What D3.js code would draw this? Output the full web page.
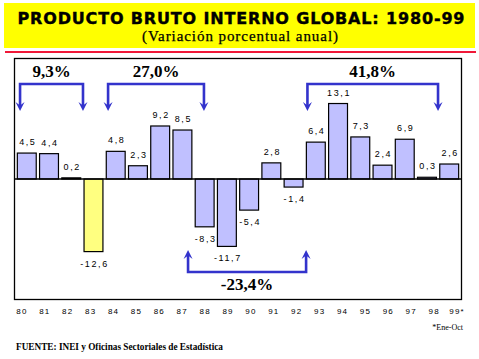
<!DOCTYPE html>
<html>
<head>
<meta charset="utf-8">
<script src="https://cdn.jsdelivr.net/npm/d3@7"></script>
<style>
  body { margin: 0; background: #fff; }
  svg { display: block; }
</style>
</head>
<body>
<svg id="chart" width="479" height="359"></svg>
<script>
// data
const years = ["80", "81", "82", "83", "84", "85", "86", "87", "88", "89",
  "90", "91", "92", "93", "94", "95", "96", "97", "98", "99"];
const tickLabels = ["80", "81", "82", "83", "84", "85", "86", "87", "88", "89",
  "90", "91", "92", "93", "94", "95", "96", "97", "98", "99*"];
const values = [4.5, 4.4, 0.2, -12.6, 4.8, 2.3, 9.2, 8.5, -8.3, -11.7,
  -5.4, 2.8, -1.4, 6.4, 13.1, 7.3, 2.4, 6.9, 0.3, 2.6];
const highlightYears = ["83"];
// cumulative periods, ends given in year units as drawn
const periodStart = [79.77, 83.7, 92.6, 87.27];
const periodEnd = [82.58, 87.98, 98.43, 92.54];
const periodLabels = ["9,3%", "27,0%", "41,8%", "-23,4%"];

const svg = d3.select("#chart");
const plotLeft = 14, plotRight = 462, plotTop = 58, plotBottom = 300;
const blue = "#3333cc";

// title block
svg.append("rect")
  .attr("x", 4).attr("y", 3).attr("width", 471).attr("height", 45)
  .attr("fill", "#ffff00");
svg.append("text")
  .attr("x", 241).attr("y", 23.5)
  .attr("text-anchor", "middle")
  .attr("textLength", 447).attr("lengthAdjust", "spacing")
  .attr("stroke", "#000").attr("stroke-width", 0.4)
  .style("font", "900 16px 'DejaVu Sans', Arial, sans-serif")
  .text("PRODUCTO BRUTO INTERNO GLOBAL: 1980-99");
svg.append("text")
  .attr("x", 240).attr("y", 41)
  .attr("text-anchor", "middle")
  .attr("textLength", 196).attr("lengthAdjust", "spacing")
  .attr("stroke", "#000").attr("stroke-width", 0.25)
  .style("font", "15px 'Liberation Serif', 'Times New Roman', serif")
  .text("(Variación porcentual anual)");
svg.append("line")
  .attr("x1", 5).attr("x2", 476).attr("y1", 52).attr("y2", 52)
  .attr("stroke", "#f01838").attr("stroke-width", 2);

// scales
const x = d3.scaleBand().domain(years).range([plotLeft, plotRight]).padding(0.15);
const xYear = d3.scaleLinear().domain([79.5, 99.5]).range([plotLeft, plotRight]);
const y = d3.scaleLinear().domain([-21, 21]).range([plotBottom, plotTop]);
const xTick = d3.scaleBand().domain(tickLabels).range([10.5, 468.5]);

// plot frame
svg.append("rect")
  .attr("x", plotLeft + 0.5).attr("y", plotTop + 0.5)
  .attr("width", plotRight - plotLeft - 1).attr("height", plotBottom - plotTop - 1)
  .attr("fill", "none").attr("stroke", "#000").attr("stroke-width", 1.3);

// bars
svg.selectAll(".bar")
  .data(values)
  .join("rect")
  .attr("class", "bar")
  .attr("x", (d, i) => x(years[i]))
  .attr("width", x.bandwidth())
  .attr("y", (d) => y(Math.max(0, d)))
  .attr("height", (d) => Math.abs(y(d) - y(0)))
  .attr("fill", (d, i) => highlightYears.includes(years[i]) ? "#ffff80" : "#c0c0ff")
  .attr("stroke", "#000")
  .attr("stroke-width", 1.2);

// zero line
svg.append("line")
  .attr("x1", plotLeft).attr("x2", plotRight)
  .attr("y1", y(0)).attr("y2", y(0))
  .attr("stroke", "#000").attr("stroke-width", 1.3);

// value labels
svg.selectAll(".val")
  .data(values)
  .join("text")
  .attr("class", "val")
  .attr("x", (d, i) => x(years[i]) + x.bandwidth() / 2 + 1)
  .attr("y", (d) => d >= 0 ? y(d) - 8 : y(d) + 15)
  .attr("text-anchor", "middle")
  .style("font", "9px 'Liberation Sans', Arial, sans-serif")
  .style("letter-spacing", "1.6px")
  .text((d) => String(d).replace(".", ","));

// year axis
const xAxis = d3.axisBottom(xTick).tickSize(0).tickPadding(8);
const axisG = svg.append("g")
  .attr("transform", `translate(0,${plotBottom})`)
  .call(xAxis);
axisG.select(".domain").remove();
axisG.selectAll("text")
  .style("font", "8px 'Liberation Sans', Arial, sans-serif")
  .style("letter-spacing", "1.2px")
  .attr("fill", "#000");

// period brackets
const arrowHead = (cx, tipY, dir) => {
  // dir 1 = pointing down, -1 = pointing up
  const h = 9 * dir, w = 4.5;
  return `M${cx},${tipY} L${cx - w},${tipY - h} L${cx},${tipY - h * 0.6} L${cx + w},${tipY - h} Z`;
};

periodLabels.forEach((label, i) => {
  const x0 = xYear(periodStart[i]);
  const x1 = xYear(periodEnd[i]);
  const up = label.startsWith("-");
  const lineY = up ? 272 : 84;
  const tipY = up ? 250 : 111;
  const g = svg.append("g");
  g.append("path")
    .attr("d", `M${x0},${tipY + (up ? 4 : -4)} V${lineY} H${x1} V${tipY + (up ? 4 : -4)}`)
    .attr("fill", "none")
    .attr("stroke", blue)
    .attr("stroke-width", 2.6);
  [x0, x1].forEach((cx) => {
    g.append("path")
      .attr("d", arrowHead(cx, tipY, up ? -1 : 1))
      .attr("fill", blue);
  });
  g.append("text")
    .attr("x", (x0 + x1) / 2)
    .attr("y", up ? 290 : 77)
    .attr("text-anchor", "middle")
    .style("font", "bold 17px 'Liberation Serif', 'Times New Roman', serif")
    .text(label);
});

// notes
svg.append("text")
  .attr("x", 463).attr("y", 330)
  .attr("text-anchor", "end")
  .style("font", "8px 'Liberation Serif', 'Times New Roman', serif")
  .text("*Ene-Oct");
svg.append("text")
  .attr("x", 16).attr("y", 350)
  .attr("textLength", 207).attr("lengthAdjust", "spacingAndGlyphs")
  .style("font", "bold 10px 'Liberation Serif', 'Times New Roman', serif")
  .text("FUENTE: INEI y Oficinas Sectoriales de Estadística");
</script>
</body>
</html>
